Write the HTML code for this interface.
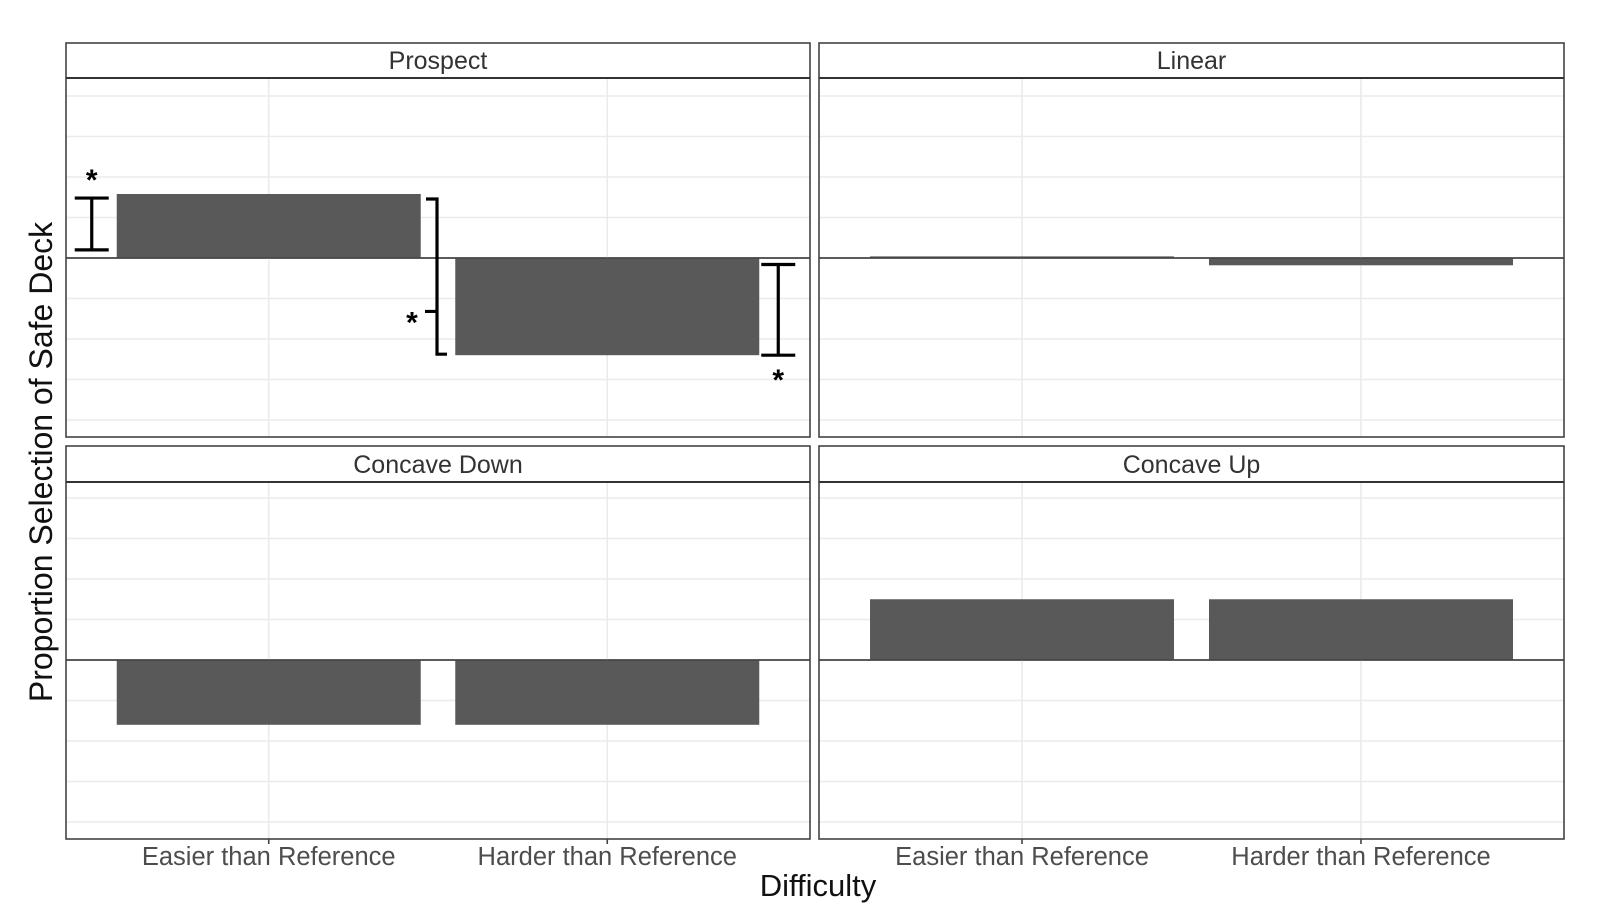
<!DOCTYPE html>
<html><head><meta charset="utf-8"><style>
html,body{margin:0;padding:0;background:#fff;}
svg{display:block;font-family:"Liberation Sans",Arial,sans-serif;}
</style></head><body>
<svg id="chart" width="1599" height="915" viewBox="0 0 1599 915" xmlns="http://www.w3.org/2000/svg">
<text transform="translate(52,462) rotate(-90)" text-anchor="middle" font-size="32" fill="#111">Proportion Selection of Safe Deck</text>
<text x="818" y="896" text-anchor="middle" font-size="31" fill="#111">Difficulty</text>
</svg>
<script>
const panelNames = ["Prospect", "Linear", "Concave Down", "Concave Up"];
const categories = ["Easier than Reference", "Harder than Reference"];
const prospectValues = [0.079, -0.12];
const linearValues = [0.002, -0.009];
const concaveDownValues = [-0.08, -0.08];
const concaveUpValues = [0.075, 0.075];
const seriesValues = [prospectValues, linearValues, concaveDownValues, concaveUpValues];
const errorLow = [[0.01, -0.12], [null, null], [null, null], [null, null]];
const errorHigh = [[0.074, -0.008], [null, null], [null, null], [null, null]];
const bracketMid = -0.066;
const gridValues = [0.2, 0.15, 0.1, 0.05, 0, -0.05, -0.1, -0.15, -0.2];

const svg = document.getElementById('chart');
const NS = 'http://www.w3.org/2000/svg';
function mk(tag, attrs, parent){
  const e = document.createElementNS(NS, tag);
  for (const k in attrs) e.setAttribute(k, attrs[k]);
  (parent || svg).appendChild(e);
  return e;
}
const panels = [
  {x0:66, x1:810, s0:43, s1:78, y1:437},
  {x0:819, x1:1564, s0:43, s1:78, y1:437},
  {x0:66, x1:810, s0:446, s1:482, y1:839},
  {x0:819, x1:1564, s0:446, s1:482, y1:839}
];
panels.forEach((p, i) => {
  const g = mk('g', {});
  
  
  const top = p.s1, bot = p.y1;
  const zeroRef = (i < 2) ? 258 : 660;
  const pxPer = 40.5 / 0.05;
  const yScale = v => zeroRef - v * pxPer;
  const xc = k => p.x0 + (k === 0 ? 0.2725 : 0.7275) * (p.x1 - p.x0);
  const bw = 304;
  gridValues.forEach(v => {
    const y = yScale(v);
    if (y <= top + 2 || y >= bot - 1) return;
    const l = mk('line', {x1:p.x0, x2:p.x1, y1:y, y2:y, stroke: v === 0 ? '#444' : '#ebebeb', 'stroke-width':1.6}, g);
    
    
  });
  categories.forEach((c, k) => {
    const l = mk('line', {x1:xc(k), x2:xc(k), y1:top, y2:bot, stroke:'#ebebeb', 'stroke-width':1.6}, g);
    
    
  });
  seriesValues[i].forEach((v, k) => {
    const y0 = yScale(0), yv = yScale(v);
    const r = mk('rect', {x:xc(k) - bw/2, y:Math.min(y0, yv), width:bw, height:Math.max(Math.abs(yv - y0), 1), fill:'#595959'}, g);
    
    
  });
  const z = mk('line', {x1:p.x0, x2:p.x1, y1:yScale(0), y2:yScale(0), stroke:'#444', 'stroke-width':1.4}, g);
  
  
  errorLow[i].forEach((lo, k) => {
    if (lo === null) return;
    const hi = errorHigh[i][k];
    const ex = k === 0 ? xc(k) - bw/2 - 25 : xc(k) + bw/2 + 19;
    const ya = yScale(hi), yb = yScale(lo);
    const eg = mk('g', {stroke:'#000', 'stroke-width':3.2, fill:'none'}, g);
    
    
    mk('line', {x1:ex, x2:ex, y1:ya, y2:yb}, eg);
    mk('line', {x1:ex-17, x2:ex+17, y1:ya, y2:ya}, eg);
    mk('line', {x1:ex-17, x2:ex+17, y1:yb, y2:yb}, eg);
    const st = mk('text', {x:ex, y: k === 0 ? ya - 8 : yb + 35, 'text-anchor':'middle', 'font-size':30, 'font-weight':'bold', fill:'#000'}, g);
    
    
    st.textContent = '*';
  });
  if (i === 0) {
    const bx = 437;
    const yt = yScale(seriesValues[0][0]) + 5, yb = yScale(seriesValues[0][1]) - 1;
    const ym = yScale(bracketMid);
    const bg = mk('path', {d:`M${bx-11},${yt} H${bx} V${yb} H${bx+10} M${bx},${ym} H${bx-12}`, stroke:'#000', 'stroke-width':3.2, fill:'none'}, g);
    
    
    const st = mk('text', {x:412, y:ym + 21, 'text-anchor':'middle', 'font-size':30, 'font-weight':'bold', fill:'#000'}, g);
    
    
    st.textContent = '*';
  }
  const b = mk('rect', {x:p.x0, y:p.s0, width:p.x1 - p.x0, height:bot - p.s0, fill:'none', stroke:'#444', 'stroke-width':1.6}, g);
  
  
  const sl = mk('line', {x1:p.x0, x2:p.x1, y1:p.s1, y2:p.s1, stroke:'#333', 'stroke-width':2}, g);
  
  
  const t = mk('text', {x:(p.x0 + p.x1)/2, y:p.s1 - 9, 'text-anchor':'middle', 'font-size':25, fill:'#333'}, g);
  
  
  t.textContent = panelNames[i];
  if (i >= 2) {
    categories.forEach((c, k) => {
      const tk = mk('line', {x1:xc(k), x2:xc(k), y1:bot, y2:bot + 5, stroke:'#444', 'stroke-width':1.6}, g);
      
      
      const lb = mk('text', {x:xc(k), y:bot + 26, 'text-anchor':'middle', 'font-size':25.5, fill:'#4d4d4d'}, g);
      
      
      lb.textContent = c;
    });
  }
});
</script>
</body></html>
